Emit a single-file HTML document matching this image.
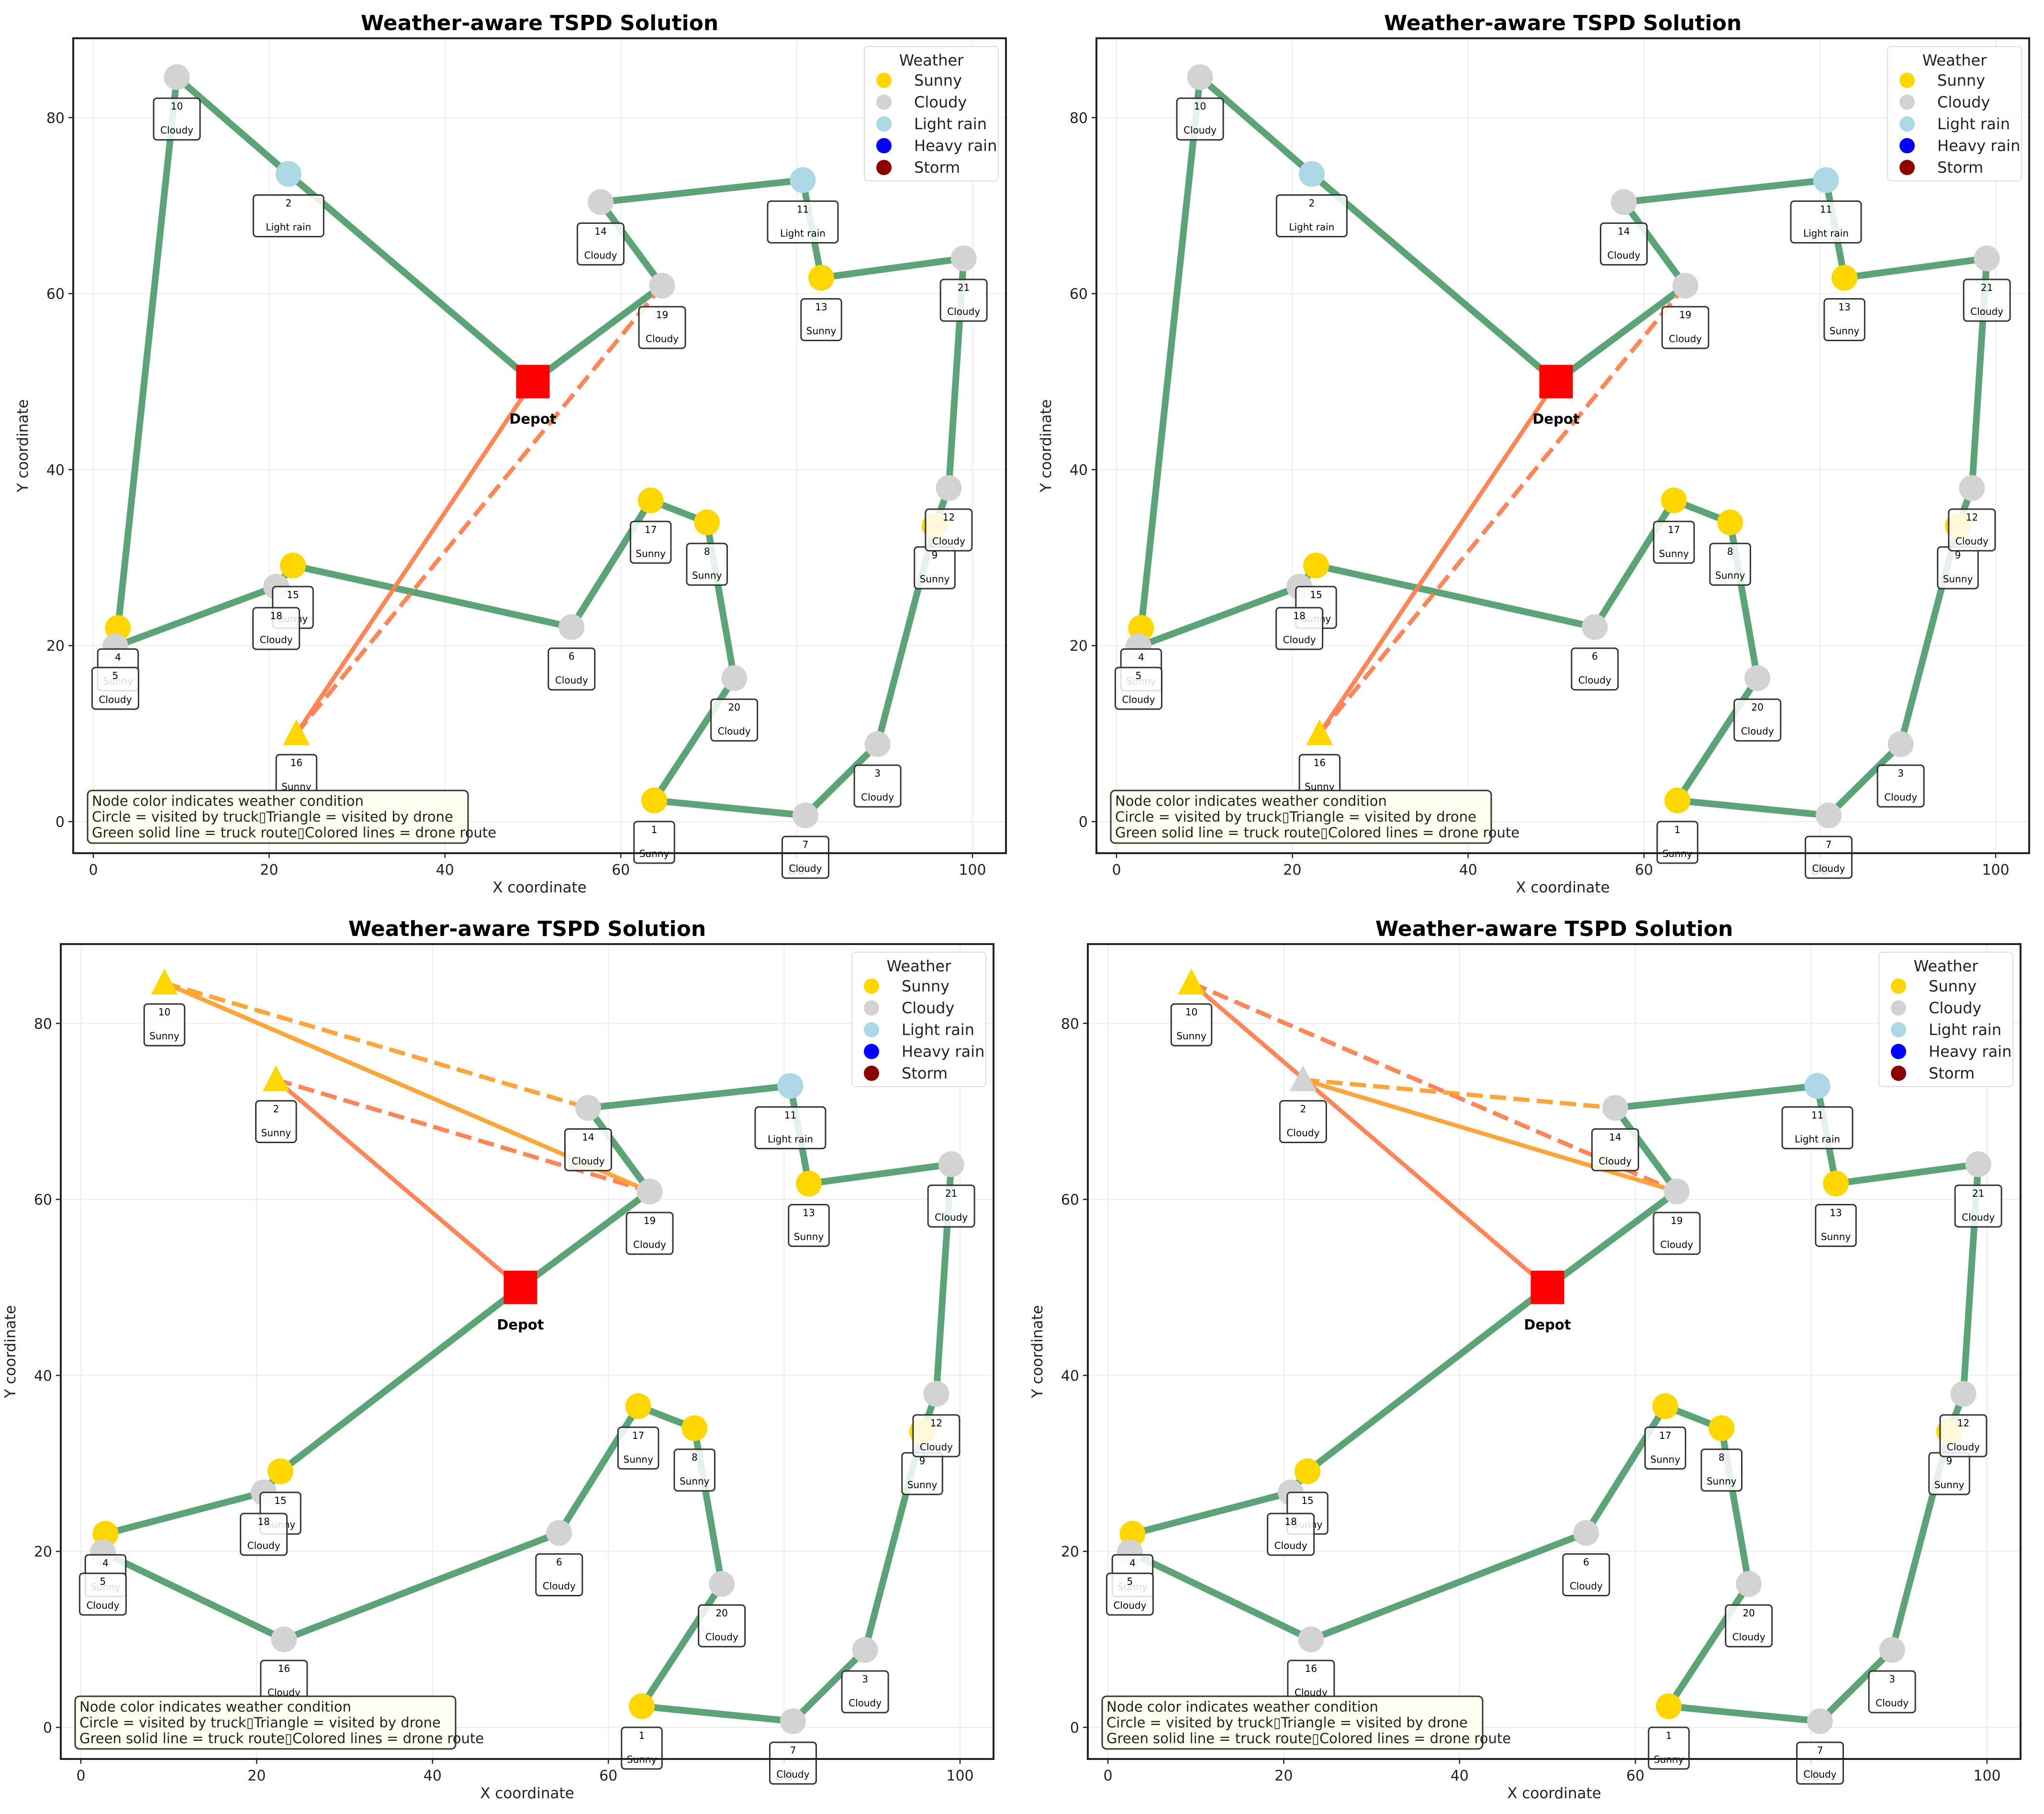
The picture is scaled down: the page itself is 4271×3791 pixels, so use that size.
<!DOCTYPE html>
<html><head><meta charset="utf-8">
<style>
html,body{margin:0;padding:0;background:#fff;}
svg{display:block;font-family:"DejaVu Sans","Liberation Sans",sans-serif;}
</style></head>
<body>
<svg id="fig" width="4271" height="3791" viewBox="0 0 4271 3791" xmlns="http://www.w3.org/2000/svg"></svg>
<script>
const nodeIds=[1,2,3,4,5,6,7,8,9,10,11,12,13,14,15,16,17,18,19,20,21];
const nodeX=[63.8,22.2,89.2,2.8,2.5,54.4,81.0,69.8,95.7,9.5,80.7,97.3,82.8,57.7,22.7,23.1,63.4,20.8,64.7,72.9,99.0];
const nodeY=[2.4,73.6,8.8,22.0,19.9,22.1,0.7,34.0,33.6,84.6,72.9,37.9,61.8,70.4,29.1,10.0,36.5,26.7,60.9,16.3,64.0];
const depotXY=[50,50];
const weatherTop=["Sunny","Light rain","Cloudy","Sunny","Cloudy","Cloudy","Cloudy","Sunny","Sunny","Cloudy","Light rain","Cloudy","Sunny","Cloudy","Sunny","Sunny","Sunny","Cloudy","Cloudy","Cloudy","Cloudy"];
const weatherBL=["Sunny","Sunny","Cloudy","Sunny","Cloudy","Cloudy","Cloudy","Sunny","Sunny","Sunny","Light rain","Cloudy","Sunny","Cloudy","Sunny","Cloudy","Sunny","Cloudy","Cloudy","Cloudy","Cloudy"];
const weatherBR=["Sunny","Cloudy","Cloudy","Sunny","Cloudy","Cloudy","Cloudy","Sunny","Sunny","Sunny","Light rain","Cloudy","Sunny","Cloudy","Sunny","Cloudy","Sunny","Cloudy","Cloudy","Cloudy","Cloudy"];
// 0 = depot
const truckTop=[0,2,10,4,5,18,15,6,17,8,20,1,7,3,9,12,21,13,11,14,19,0];
const truckBottom=[0,15,18,4,5,16,6,17,8,20,1,7,3,9,12,21,13,11,14,19,0];
const droneTopA=[0,16,19];
const droneBLA=[0,2,19];
const droneBLB=[19,10,14];
const droneBRA=[0,10,19];
const droneBRB=[19,2,14];
const xTicks=[0,20,40,60,80,100];
const yTicks=[0,20,40,60,80];
const legendLabels=["Sunny","Cloudy","Light rain","Heavy rain","Storm"];
const weatherColors={"Sunny":"#ffd700","Cloudy":"#d3d3d3","Light rain":"#add8e6","Heavy rain":"#0000ff","Storm":"#8b0000"};

const NS="http://www.w3.org/2000/svg";
const svg=document.getElementById('fig');
function mk(tag,attrs,parent,text){const e=document.createElementNS(NS,tag);for(const k in attrs)e.setAttribute(k,attrs[k]);if(text!==undefined)e.textContent=text;(parent||svg).appendChild(e);return e;}

const panels=[
 {name:'top-left',ox:195,oy:1717,left:153,top:80,right:2102,bottom:1783,w:weatherTop,truck:truckTop,tri:[16],drones:[[droneTopA,'#ff7f50']]},
 {name:'top-right',ox:2333,oy:1717,left:2291,top:80,right:4240,bottom:1783,w:weatherTop,truck:truckTop,tri:[16],drones:[[droneTopA,'#ff7f50']]},
 {name:'bottom-left',ox:169,oy:3610,left:127,top:1973,right:2076,bottom:3676,w:weatherBL,truck:truckBottom,tri:[10,2],drones:[[droneBLA,'#ff7f50'],[droneBLB,'#ffa030']]},
 {name:'bottom-right',ox:2315,oy:3610,left:2273,top:1973,right:4222,bottom:3676,w:weatherBR,truck:truckBottom,tri:[10,2],drones:[[droneBRA,'#ff7f50'],[droneBRB,'#ffa030']]}
];
const SX=18.37,SY=18.39;

panels.forEach(p=>{
 const g=mk('g',{});
 
 
 const X=v=>p.ox+v*SX, Y=v=>p.oy-v*SY;
 const px=i=>i===0?X(depotXY[0]):X(nodeX[i-1]);
 const py=i=>i===0?Y(depotXY[1]):Y(nodeY[i-1]);
 const cx=(p.left+p.right)/2;
 const t=mk('text',{x:cx,y:p.top-17,'text-anchor':'middle','font-size':44,'font-weight':'bold'},g,'Weather-aware TSPD Solution');
 
 xTicks.forEach(v=>{mk('line',{x1:X(v),x2:X(v),y1:p.top,y2:p.bottom,stroke:'#ebebeb','stroke-width':2},g);
   mk('line',{x1:X(v),x2:X(v),y1:p.bottom,y2:p.bottom+10,stroke:'#222','stroke-width':2.5},g);
   const l=mk('text',{x:X(v),y:p.bottom+45,'text-anchor':'middle','font-size':30,fill:'#222'},g,String(v));
   });
 yTicks.forEach(v=>{mk('line',{x1:p.left,x2:p.right,y1:Y(v),y2:Y(v),stroke:'#ebebeb','stroke-width':2},g);
   mk('line',{x1:p.left-10,x2:p.left,y1:Y(v),y2:Y(v),stroke:'#222','stroke-width':2.5},g);
   const l=mk('text',{x:p.left-18,y:Y(v)+11,'text-anchor':'end','font-size':30,fill:'#222'},g,String(v));
   });
 const xl=mk('text',{x:cx,y:p.bottom+82,'text-anchor':'middle','font-size':31,fill:'#222'},g,'X coordinate');
 
 const yx=p.left-95, yy=(p.top+p.bottom)/2;
 const yl=mk('text',{x:yx,y:yy,'text-anchor':'middle','font-size':31,fill:'#222',transform:`rotate(-90 ${yx} ${yy})`},g,'Y coordinate');
 
 const pts=p.truck.map(i=>px(i)+','+py(i)).join(' ');
 const tr=mk('polyline',{points:pts,fill:'none',stroke:'#4a9a68','stroke-opacity':0.9,'stroke-width':14,'stroke-linejoin':'round','stroke-linecap':'round'},g);
 
 p.drones.forEach(([d,c])=>{
   const a=mk('line',{x1:px(d[0]),y1:py(d[0]),x2:px(d[1]),y2:py(d[1]),stroke:c,'stroke-width':9,'stroke-opacity':0.95},g);
   
   const b=mk('line',{x1:px(d[1]),y1:py(d[1]),x2:px(d[2]),y2:py(d[2]),stroke:c,'stroke-width':9,'stroke-opacity':0.95,'stroke-dasharray':'34 15'},g);
   
 });
 nodeIds.forEach((id,k)=>{
   const x=px(id),y=py(id),col=weatherColors[p.w[k]];
   let m;
   if(p.tri.includes(id)){m=mk('polygon',{points:`${x},${y-30} ${x-28},${y+24} ${x+28},${y+24}`,fill:col},g);}
   else{m=mk('circle',{cx:x,cy:y,r:27,fill:col},g);}
   
 });
 const dp=mk('rect',{x:px(0)-35,y:py(0)-35,width:70,height:70,fill:'#ff0000'},g);
 
 const dl=mk('text',{x:px(0),y:py(0)+88,'text-anchor':'middle','font-size':29,'font-weight':'bold'},g,'Depot');
 
 nodeIds.forEach((id,k)=>{
   const x=px(id),y=py(id),w=p.w[k];
   const bw=Math.max(44,w.length*12.5+22);
   const lg=mk('g',{},g);
   
   mk('rect',{x:x-bw/2,y:y+44,width:bw,height:87,rx:7,fill:'#fff','fill-opacity':0.85,stroke:'#333','stroke-width':3},lg);
   mk('text',{x:x,y:y+68,'text-anchor':'middle','font-size':20},lg,String(id));
   mk('text',{x:x,y:y+118,'text-anchor':'middle','font-size':20},lg,w);
 });
 const lx=p.right-296, ly=p.top+17;
 const leg=mk('g',{},g);
 
 mk('rect',{x:lx,y:ly,width:280,height:281,rx:8,fill:'#fff','fill-opacity':0.9,stroke:'#ddd','stroke-width':2},leg);
 mk('text',{x:lx+140,y:ly+40,'text-anchor':'middle','font-size':32,fill:'#222'},leg,'Weather');
 legendLabels.forEach((lab,i)=>{
   const e=mk('g',{},leg);
   
   mk('circle',{cx:lx+41,cy:ly+71+i*45.5,r:16,fill:weatherColors[lab]},e);
   mk('text',{x:lx+104,y:ly+82+i*45.5,'font-size':32,fill:'#222'},e,lab);
 });
 const nb=mk('g',{},g);
 
 const nx=p.left+30, ny=p.bottom-131;
 mk('rect',{x:nx,y:ny,width:795,height:110,rx:9,fill:'#fffff0',stroke:'#333','stroke-width':3},nb);
 ['Node color indicates weather condition','Circle = visited by truck\u25AFTriangle = visited by drone','Green solid line = truck route\u25AFColored lines = drone route'].forEach((s,i)=>{
   mk('text',{x:nx+9,y:ny+32+i*33,'font-size':29,fill:'#222'},nb,s);
 });
 const fr=mk('rect',{x:p.left,y:p.top,width:p.right-p.left,height:p.bottom-p.top,fill:'none',stroke:'#222','stroke-width':4},g);
 
});
</script>
</body></html>
